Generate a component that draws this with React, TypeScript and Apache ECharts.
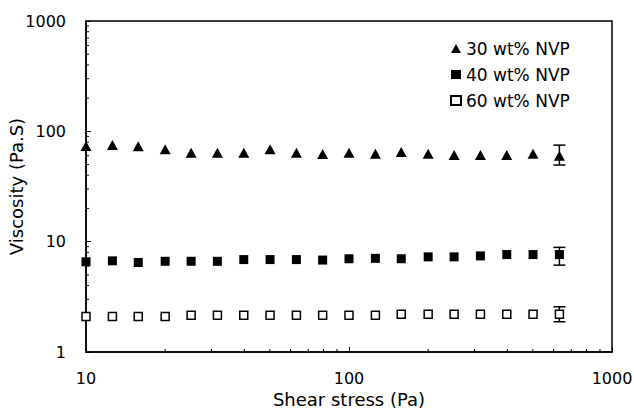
import React, { useEffect, useRef } from "react";
import * as echarts from "echarts";

const shearStress = [10, 12.6, 15.8, 20, 25.1, 31.6, 39.8, 50.1, 63.1, 79.4, 100, 126, 158, 200, 251, 316, 398, 501, 631];
const visc30 = [73.6, 75.1, 73.1, 68.7, 64, 64, 64, 68.7, 64, 62.3, 64, 62.5, 65, 62.5, 61, 61, 61, 62.5, 60];
const visc40 = [6.57, 6.7, 6.47, 6.64, 6.64, 6.64, 6.88, 6.88, 6.88, 6.81, 7.0, 7.06, 7.0, 7.28, 7.28, 7.43, 7.64, 7.64, 7.64];
const visc60 = [2.1, 2.1, 2.1, 2.1, 2.15, 2.15, 2.15, 2.15, 2.15, 2.15, 2.15, 2.15, 2.2, 2.2, 2.2, 2.2, 2.2, 2.2, 2.2];

const seriesNames = ["30 wt% NVP", "40 wt% NVP", "60 wt% NVP"];
// error bars at last point: [x, low, high]
const errorBars = [
  [631, 49.5, 75],
  [631, 6.13, 8.88],
  [631, 1.88, 2.57],
];
const xMinorTicks = [20, 30, 40, 50, 60, 70, 80, 90, 200, 300, 400, 500, 600, 700, 800, 900];
const yMinorTicks = [2, 3, 4, 5, 6, 7, 8, 9, 20, 30, 40, 50, 60, 70, 80, 90, 200, 300, 400, 500, 600, 700, 800, 900];

const FONT = "DejaVu Sans";

export default function App() {
  const ref = useRef<HTMLDivElement>(null);
  useEffect(() => {
    document.body.style.margin = "0";
    const chart = echarts.init(ref.current!, undefined, { renderer: "svg" });
    const zip = (ys: number[]) => shearStress.map((x, i) => [x, ys[i]]);
    const fmt = (v: number) => String(Math.round(v));
    chart.setOption({
      animation: false,
      backgroundColor: "#fff",
      grid: {
        left: 86,
        top: 21,
        right: 22,
        bottom: 61,
        show: true,
        borderColor: "#000",
        borderWidth: 1.5,
        containLabel: false,
        outerBoundsMode: "none",
      },
      legend: {
        orient: "vertical",
        left: 445,
        top: 35,
        itemWidth: 10,
        itemHeight: 9,
        itemGap: 9,
        data: seriesNames,
        textStyle: { fontFamily: FONT, fontSize: 17, color: "#000" },
      },
      xAxis: {
        type: "log",
        min: 10,
        max: 1000,
        logBase: 10,
        name: "Shear stress (Pa)",
        nameLocation: "middle",
        nameGap: 36,
        nameTextStyle: { fontFamily: FONT, fontSize: 18, color: "#000" },
        axisLine: { lineStyle: { color: "#000", width: 1.5 } },
        axisTick: { inside: true, length: 5, lineStyle: { color: "#000" } },
        axisLabel: { fontFamily: FONT, fontSize: 16, color: "#000", margin: 18, formatter: fmt },
        splitLine: { show: false },
      },
      yAxis: {
        type: "log",
        min: 1,
        max: 1000,
        logBase: 10,
        name: "Viscosity (Pa.S)",
        nameLocation: "middle",
        nameMoveOverlap: false,
        nameGap: 61,
        nameTextStyle: { fontFamily: FONT, fontSize: 18, color: "#000" },
        axisLine: { lineStyle: { color: "#000", width: 1.5 } },
        axisTick: { inside: true, length: 5, lineStyle: { color: "#000" } },
        axisLabel: { fontFamily: FONT, fontSize: 16, color: "#000", margin: 20, formatter: fmt },
        splitLine: { show: false },
      },
      series: [
        {
          name: seriesNames[0],
          type: "scatter",
          symbol: "triangle",
          symbolSize: [11, 10],
          clip: false,
          itemStyle: { color: "#000", opacity: 1 },
          data: zip(visc30),
          z: 5,
        },
        {
          name: seriesNames[1],
          type: "scatter",
          symbol: "rect",
          symbolSize: 9,
          clip: false,
          itemStyle: { color: "#000", opacity: 1 },
          data: zip(visc40),
          z: 5,
        },
        {
          name: seriesNames[2],
          type: "scatter",
          symbol: "rect",
          symbolSize: 8,
          clip: false,
          itemStyle: { color: "#fff", borderColor: "#000", borderWidth: 1.5, opacity: 1 },
          data: zip(visc60),
          z: 5,
        },
        {
          type: "custom",
          silent: true,
          z: 4,
          data: errorBars,
          renderItem: (params: any, api: any) => {
            const x = api.value(0);
            const lo = api.coord([x, api.value(1)]);
            const hi = api.coord([x, api.value(2)]);
            const hw = 6;
            const st = { stroke: "#000", lineWidth: 1.5 };
            return {
              type: "group",
              children: [
                { type: "line", shape: { x1: lo[0], y1: lo[1], x2: hi[0], y2: hi[1] }, style: st },
                { type: "line", shape: { x1: lo[0] - hw, y1: lo[1], x2: lo[0] + hw, y2: lo[1] }, style: st },
                { type: "line", shape: { x1: hi[0] - hw, y1: hi[1], x2: hi[0] + hw, y2: hi[1] }, style: st },
              ],
            };
          },
        },
        {
          type: "custom",
          silent: true,
          data: xMinorTicks.map((v) => [v]),
          renderItem: (params: any, api: any) => {
            const p = api.coord([api.value(0), 1]);
            return {
              type: "line",
              shape: { x1: p[0], y1: p[1], x2: p[0], y2: p[1] - 3 },
              style: { stroke: "#000", lineWidth: 1 },
            };
          },
        },
        {
          type: "custom",
          silent: true,
          data: yMinorTicks.map((v) => [10, v]),
          renderItem: (params: any, api: any) => {
            const p = api.coord([10, api.value(1)]);
            return {
              type: "line",
              shape: { x1: p[0], y1: p[1], x2: p[0] + 3, y2: p[1] },
              style: { stroke: "#000", lineWidth: 1 },
            };
          },
        },
      ],
    });
    return () => chart.dispose();
  }, []);
  return <div ref={ref} style={{ width: 634, height: 413 }} />;
}
